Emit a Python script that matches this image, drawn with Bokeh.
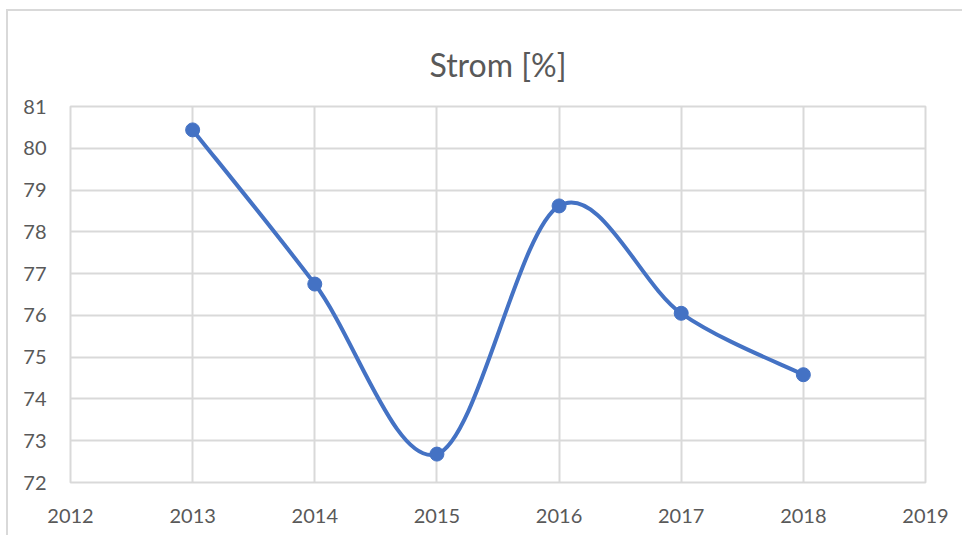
from bokeh.plotting import figure
from bokeh.models import FixedTicker, ColumnDataSource, Title
from bokeh.embed import file_html
from bokeh.resources import INLINE

years = [2013, 2014, 2015, 2016, 2017, 2018]
strom = [80.44, 76.75, 72.68, 78.62, 76.05, 74.58]
x_ticks = [2012, 2013, 2014, 2015, 2016, 2017, 2018, 2019]
y_ticks = [72, 73, 74, 75, 76, 77, 78, 79, 80, 81]
title_text = "Strom [%]"

BLUE = "#4472C4"
GRID = "#d9d9d9"
TXT = "#595959"
FONT = "Lato"

# smooth curve (Catmull-Rom -> cubic Bezier segments), like Excel's smoothed line
n = len(years)
seg = dict(x0=[], y0=[], x1=[], y1=[], cx0=[], cy0=[], cx1=[], cy1=[])
for i in range(n - 1):
    xp, yp = (years[i - 1], strom[i - 1]) if i > 0 else (years[i], strom[i])
    xa, ya = years[i], strom[i]
    xb, yb = years[i + 1], strom[i + 1]
    xn, yn = (years[i + 2], strom[i + 2]) if i + 2 < n else (xb, yb)
    seg["x0"].append(xa); seg["y0"].append(ya)
    seg["x1"].append(xb); seg["y1"].append(yb)
    seg["cx0"].append(xa + (xb - xp) / 6); seg["cy0"].append(ya + (yb - yp) / 6)
    seg["cx1"].append(xb - (xn - xa) / 6); seg["cy1"].append(yb - (yn - ya) / 6)

p = figure(width=962, height=535, output_backend="svg", toolbar_location=None,
           x_range=(2012, 2019), y_range=(72, 81),
           min_border_left=70, min_border_right=37, min_border_top=106, min_border_bottom=53)
p.border_fill_color = None
p.background_fill_color = "white"
p.styles = {
    "background": "linear-gradient(#d9d9d9,#d9d9d9) 6px 9px / 100% 2px no-repeat, "
                  "linear-gradient(#d9d9d9,#d9d9d9) 6px 9px / 2px 100% no-repeat, white"
}

t = Title(text=title_text, align="center", vertical_align="middle", text_font=FONT,
          text_font_size="32px", text_color=TXT, text_font_style="normal", standoff=44)
p.add_layout(t, "above")

p.outline_line_color = GRID
p.outline_line_width = 2
for ax in (p.xaxis, p.yaxis):
    ax.axis_line_color = None
    ax.major_tick_line_color = None
    ax.minor_tick_line_color = None
    ax.major_label_text_font = FONT
    ax.major_label_text_font_size = "20px"
    ax.major_label_text_color = TXT
p.xaxis.ticker = FixedTicker(ticks=x_ticks)
p.yaxis.ticker = FixedTicker(ticks=y_ticks)
p.xaxis.major_label_standoff = 20
p.yaxis.major_label_standoff = 18
p.xgrid.ticker = FixedTicker(ticks=x_ticks)
p.ygrid.ticker = FixedTicker(ticks=y_ticks)
p.grid.grid_line_color = GRID
p.grid.grid_line_width = 2

p.bezier(x0="x0", y0="y0", x1="x1", y1="y1", cx0="cx0", cy0="cy0", cx1="cx1", cy1="cy1",
         source=ColumnDataSource(seg), line_color=BLUE, line_width=4)
p.scatter(years, strom, size=14, fill_color=BLUE, line_color=BLUE)

open("out.html", "w").write(file_html(p, INLINE))
